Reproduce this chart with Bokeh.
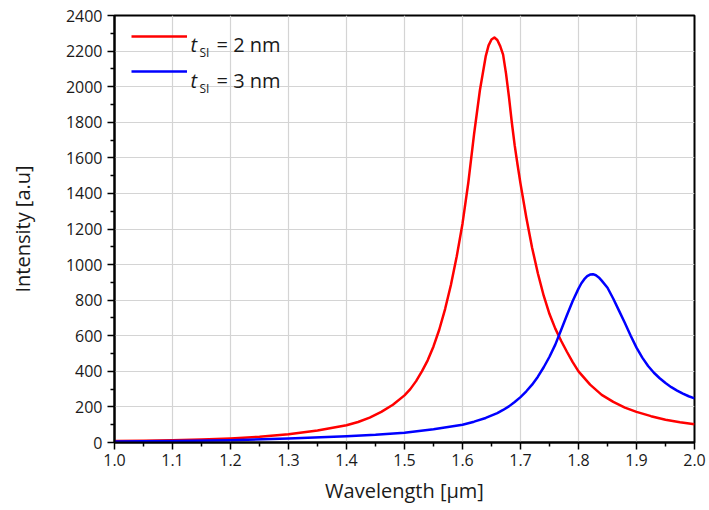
from bokeh.plotting import figure
from bokeh.models import (Range1d, FixedTicker, NumeralTickFormatter, Legend, LegendItem,
                          Label, ColumnDataSource)
from bokeh.embed import file_html
from bokeh.resources import INLINE

# ---------------- data ----------------
x_red = [1.00, 1.05, 1.10, 1.15, 1.20, 1.25, 1.30, 1.35, 1.40, 1.42, 1.44, 1.46, 1.48,
         1.50, 1.51, 1.52, 1.53, 1.54, 1.55, 1.56, 1.57, 1.58, 1.59, 1.60, 1.61, 1.62,
         1.63, 1.64, 1.645, 1.65, 1.655, 1.66, 1.665, 1.67, 1.675, 1.68, 1.685, 1.69,
         1.695, 1.70, 1.71, 1.72, 1.73, 1.74, 1.75, 1.76, 1.77, 1.78, 1.79, 1.80, 1.82,
         1.84, 1.86, 1.88, 1.90, 1.925, 1.95, 1.975, 2.00]
y_red = [8, 10, 13, 17, 23, 32, 46, 67, 97, 115, 140, 172, 212,
         265, 300, 345, 400, 462, 540, 635, 750, 885, 1045, 1230, 1460, 1735,
         1980, 2170, 2232, 2265, 2276, 2262, 2228, 2180, 2075, 1945, 1800, 1670,
         1560, 1455, 1265, 1095, 950, 825, 722, 640, 572, 510, 452, 400, 325,
         268, 228, 196, 172, 148, 128, 114, 103]

x_blue = [1.00, 1.10, 1.20, 1.30, 1.40, 1.45, 1.50, 1.55, 1.60, 1.62, 1.64, 1.66, 1.67,
          1.68, 1.69, 1.70, 1.71, 1.72, 1.73, 1.74, 1.75, 1.76, 1.77, 1.78, 1.79, 1.80,
          1.805, 1.81, 1.815, 1.82, 1.825, 1.83, 1.835, 1.84, 1.85, 1.86, 1.87, 1.88,
          1.89, 1.90, 1.91, 1.92, 1.93, 1.94, 1.95, 1.96, 1.97, 1.98, 1.99, 2.00]
y_blue = [5, 8, 13, 22, 35, 43, 55, 75, 100, 117, 138, 165, 183,
          203, 228, 255, 288, 325, 370, 423, 482, 550, 632, 715, 795, 865,
          895, 918, 935, 944, 946, 940, 928, 910, 870, 808, 740, 672,
          600, 533, 477, 430, 392, 361, 334, 311, 292, 275, 260, 248]

x_ticks = [1.0, 1.1, 1.2, 1.3, 1.4, 1.5, 1.6, 1.7, 1.8, 1.9, 2.0]
x_minor = [1.05, 1.15, 1.25, 1.35, 1.45, 1.55, 1.65, 1.75, 1.85, 1.95]
y_ticks = [0, 200, 400, 600, 800, 1000, 1200, 1400, 1600, 1800, 2000, 2200, 2400]
y_minor = [100, 300, 500, 700, 900, 1100, 1300, 1500, 1700, 1900, 2100, 2300]

legend_values = ["= 2 nm", "= 3 nm"]

FONT = "Open Sans"

p = figure(width=709, height=510, output_backend="svg", toolbar_location=None,
           x_range=Range1d(1.0, 2.0), y_range=Range1d(0, 2400),
           min_border_left=114, min_border_right=15, min_border_top=15, min_border_bottom=68)
p.background_fill_color = "white"
p.border_fill_color = "white"
p.outline_line_color = "black"
p.outline_line_width = 2

red_src = ColumnDataSource(dict(x=x_red, y=y_red))
blue_src = ColumnDataSource(dict(x=x_blue, y=y_blue))
r_red = p.line("x", "y", source=red_src, line_color="#ff0000", line_width=2.5,
               line_join="round")
r_blue = p.line("x", "y", source=blue_src, line_color="#0000ff", line_width=2.5,
                line_join="round")

# axes
p.xaxis.ticker = FixedTicker(ticks=x_ticks, minor_ticks=x_minor)
p.yaxis.ticker = FixedTicker(ticks=y_ticks, minor_ticks=y_minor)
p.xaxis.formatter = NumeralTickFormatter(format="0.0")
p.yaxis.formatter = NumeralTickFormatter(format="0")
p.xaxis.axis_label = "Wavelength [μm]"
p.yaxis.axis_label = "Intensity [a.u]"
for ax in (p.xaxis[0], p.yaxis[0]):
    ax.axis_line_color = "black"
    ax.axis_line_width = 2
    ax.major_tick_line_color = "black"
    ax.major_tick_line_width = 1.5
    ax.minor_tick_line_color = "black"
    ax.minor_tick_line_width = 1.5
    ax.major_tick_in = 0
    ax.major_tick_out = 7
    ax.minor_tick_in = 0
    ax.minor_tick_out = 4
    ax.major_label_text_font = FONT
    ax.major_label_text_font_size = "16px"
    ax.major_label_text_color = "#1a1a1a"
    ax.axis_label_text_font = FONT
    ax.axis_label_text_font_size = "20px"
    ax.axis_label_text_font_style = "normal"
    ax.axis_label_text_color = "#1a1a1a"
p.xaxis.major_label_standoff = 4
p.yaxis.major_label_standoff = 5
p.xaxis.axis_label_standoff = 8
p.yaxis.axis_label_standoff = 27

p.xgrid.ticker = FixedTicker(ticks=x_ticks)
p.ygrid.ticker = FixedTicker(ticks=y_ticks)
p.grid.grid_line_color = "#d4d4d4"
p.grid.grid_line_width = 1.2

# legend (line samples)
legend = Legend(items=[LegendItem(label=" ", renderers=[r_red]),
                       LegendItem(label=" ", renderers=[r_blue])],
                location="top_left", margin=17, padding=0, spacing=27,
                glyph_width=56, glyph_height=8, label_height=8, label_width=0,
                label_text_font_size="6px", border_line_color=None,
                background_fill_alpha=0)
p.add_layout(legend)

# legend texts: italic t, subscript SI, value
def px2x(px):
    return 1.0 + (px - 114) / 580.0

def py2y(py):
    return (442.3 - py) / 0.1775

rows = [45, 81]
for base, txt in zip(rows, legend_values):
    p.add_layout(Label(x=px2x(190), y=py2y(base), text="t", text_font=FONT,
                       text_font_style="italic", text_font_size="20px",
                       text_color="#1a1a1a", text_baseline="alphabetic", text_align="left"))
    p.add_layout(Label(x=px2x(199), y=py2y(base + 8), text="SI", text_font=FONT,
                       text_font_size="12px", text_color="#1a1a1a",
                       text_baseline="alphabetic", text_align="left"))
    p.add_layout(Label(x=px2x(216), y=py2y(base), text=txt, text_font=FONT,
                       text_font_size="20px", text_color="#1a1a1a",
                       text_baseline="alphabetic", text_align="left"))

open("out.html", "w").write(file_html(p, INLINE))
